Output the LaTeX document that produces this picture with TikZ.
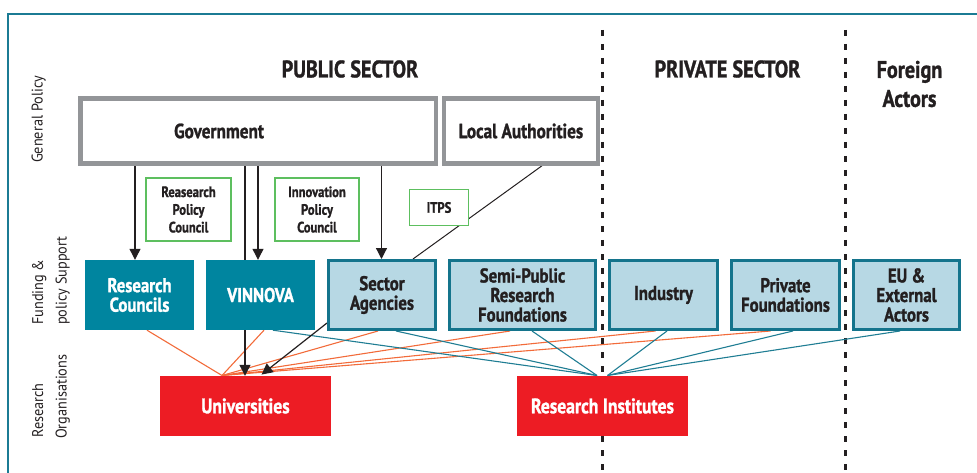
\documentclass[tikz,border=0pt]{standalone}
\usepackage{fontspec}
\setmainfont{PT Sans}[FakeStretch=0.84, BoldFeatures={FakeBold=1.2}]
\newfontfamily\sidefont{PT Sans}[FakeStretch=0.92]
\usetikzlibrary{arrows.meta,backgrounds}
\definecolor{frameteal}{HTML}{1B7B94}
\definecolor{darkteal}{HTML}{00859F}
\definecolor{lightblue}{HTML}{B7D8E4}
\definecolor{boxborder}{HTML}{14748C}
\definecolor{redbox}{HTML}{ED1C24}
\definecolor{orangeline}{HTML}{F26B3A}
\definecolor{tealline}{HTML}{1F7D93}
\definecolor{greenborder}{HTML}{5DBF5F}
\definecolor{graybox}{HTML}{939598}
\definecolor{inkdark}{HTML}{231F20}
\begin{document}
\begin{tikzpicture}[x=1pt,y=-1pt,
  boxfont/.style={font=\bfseries\fontsize{20}{19.5}\selectfont},
  govbox/.style={draw=graybox, line width=4.5pt, fill=white, inner sep=0pt, minimum height=65pt},
  govtext/.style={text=inkdark, font=\bfseries\fontsize{20.5}{20}\selectfont, inner sep=0pt},
  darkbox/.style={fill=darkteal, text=white, boxfont, align=center, inner sep=0pt, minimum width=109pt, minimum height=70pt},
  lightbox/.style={fill=lightblue, draw=boxborder, line width=3pt, text=inkdark, boxfont, align=center, inner sep=0pt, minimum height=69pt},
  redboxstyle/.style={fill=redbox, text=white, font=\bfseries\fontsize{21}{20}\selectfont, inner sep=0pt, minimum width=171pt, minimum height=60pt},
  greenbox/.style={draw=greenborder, line width=1.2pt, fill=white, text=inkdark, font=\bfseries\fontsize{15}{17.7}\selectfont, align=center, inner sep=0pt},
  titletext/.style={text=inkdark, font=\bfseries\fontsize{24}{29}\selectfont, align=center, inner sep=0pt},
  sidelabel/.style={rotate=90, anchor=base west, inner sep=0pt, text=inkdark, font=\sidefont\fontsize{15.5}{16}\selectfont},
  arrowline/.style={draw=inkdark, line width=1.2pt, -{Triangle[width=11pt,length=11pt]}},
  plainline/.style={draw=inkdark, line width=1pt},
  orangelink/.style={draw=orangeline, line width=1.1pt},
  teallink/.style={draw=tealline, line width=1.1pt},
  dashdiv/.style={draw=inkdark, line width=2.8pt, dash pattern=on 6pt off 8pt},
  framestyle/.style={draw=frameteal, line width=2pt}
]
\useasboundingbox (0,0) rectangle (977,473);

% frame
\coordinate (fbl) at (8,480);
\coordinate (ftl) at (8,14);
\coordinate (ftr) at (985,14);
\draw[framestyle] (fbl) -- (ftl) -- (ftr);

% titles
\node[titletext] (pub) at (350,69) {PUBLIC SECTOR};
\node[titletext] (priv) at (727.5,69) {PRIVATE SECTOR};
\node[titletext] (foreign) at (909.5,84) {Foreign\\Actors};

% side labels
\node[sidelabel] (gp) at (42.5,163) {General Policy};
\node[sidelabel] (fund1) at (43,325) {Funding \&};
\node[sidelabel] (fund2) at (66.5,325) {policy Support};
\node[sidelabel] (ro1) at (43,438) {Research};
\node[sidelabel] (ro2) at (66.5,439) {Organisations};

% general policy
\node[govbox, minimum width=355.5pt] (gov) at (258.25,131) {};
\node[govtext] (govt) at (219,131) {Government};
\node[govbox, minimum width=153.7pt, govtext] (local) at (520.9,131) {Local Authorities};

% councils
\node[greenbox, minimum width=85pt, minimum height=63pt] (rpc) at (188.5,209.5) {Reasearch\\Policy\\Council};
\node[greenbox, minimum width=84pt, minimum height=63pt] (ipc) at (317,209.5) {Innovation\\Policy\\Council};
\node[greenbox, minimum width=59pt, minimum height=36pt] (itps) at (439,207.5) {ITPS};

% funding row
\node[darkbox] (rc) at (139.5,295) {Research\\Councils};
\node[darkbox] (vin) at (260.5,295) {VINNOVA};
\node[lightbox, minimum width=107pt] (sa) at (382,295) {Sector\\Agencies};
\node[lightbox, minimum width=146pt] (sp) at (522.5,295) {Semi-Public\\Research\\Foundations};
\node[lightbox, minimum width=108pt] (ind) at (663.5,295) {Industry};
\node[lightbox, minimum width=108pt] (pf) at (785.5,295) {Private\\Foundations};
\node[lightbox, minimum width=106pt] (eu) at (906.5,295) {EU \&\\External\\Actors};

% research organisations
\node[redboxstyle] (uni) at (245.5,406) {Universities};
\node[redboxstyle] (ri) at (602.5,406) {Research Institutes};

\coordinate (uconv) at (222,375.5);
\coordinate (riL) at (597,375.5);
\coordinate (riR) at (607.5,375.5);
\coordinate (divAtop) at (602.5,30);
\coordinate (divAbot) at (602.5,480);
\coordinate (divBtop) at (845.5,30);
\coordinate (divBbot) at (845.5,480);

\begin{pgfonlayer}{background}
  \draw[dashdiv] (divAtop) -- (divAbot);
  \draw[dashdiv] (divBtop) -- (divBbot);
  % orange links to universities
  \draw[orangelink] (rc.south -| 147,0) -- (uconv);
  \draw[orangelink] (vin.south -| 264,0) -- (uconv);
  \draw[orangelink] (sa.south -| 378,0) -- (uconv);
  \draw[orangelink] (sp.south -| 510,0) -- (uconv);
  \draw[orangelink] (ind.south -| 655.5,0) -- (uconv);
  \draw[orangelink] (pf.south -| 770.5,0) -- (uconv);
  % teal links to research institutes
  \draw[teallink] (vin.south -| 273,0) -- (riL);
  \draw[teallink] (sa.south -| 396,0) -- (riL);
  \draw[teallink] (sp.south -| 532,0) -- (riL);
  \draw[teallink] (ind.south -| 667,0) -- (riR);
  \draw[teallink] (pf.south -| 793,0) -- (riR);
  \draw[teallink] (eu.south -| 900,0) -- (riR);
  % government arrows
  \draw[arrowline] (gov.south -| 135,0) -- (rc.north -| 135,0);
  \draw[arrowline] (gov.south -| 245,0) -- (uni.north -| 245,0);
  \draw[arrowline] (gov.south -| 258,0) -- (vin.north -| 258,0);
  \draw[arrowline] (gov.south -| 381.5,0) -- (sa.north -| 381.5,0);
  \draw[plainline] (local.south -| 542,0) -- (sa.north -| 413,0);
  \draw[arrowline, shorten >=2pt] (sa.west |- 0,323) -- (uni.north -| 260,0);
\end{pgfonlayer}
\end{tikzpicture}
\end{document}
